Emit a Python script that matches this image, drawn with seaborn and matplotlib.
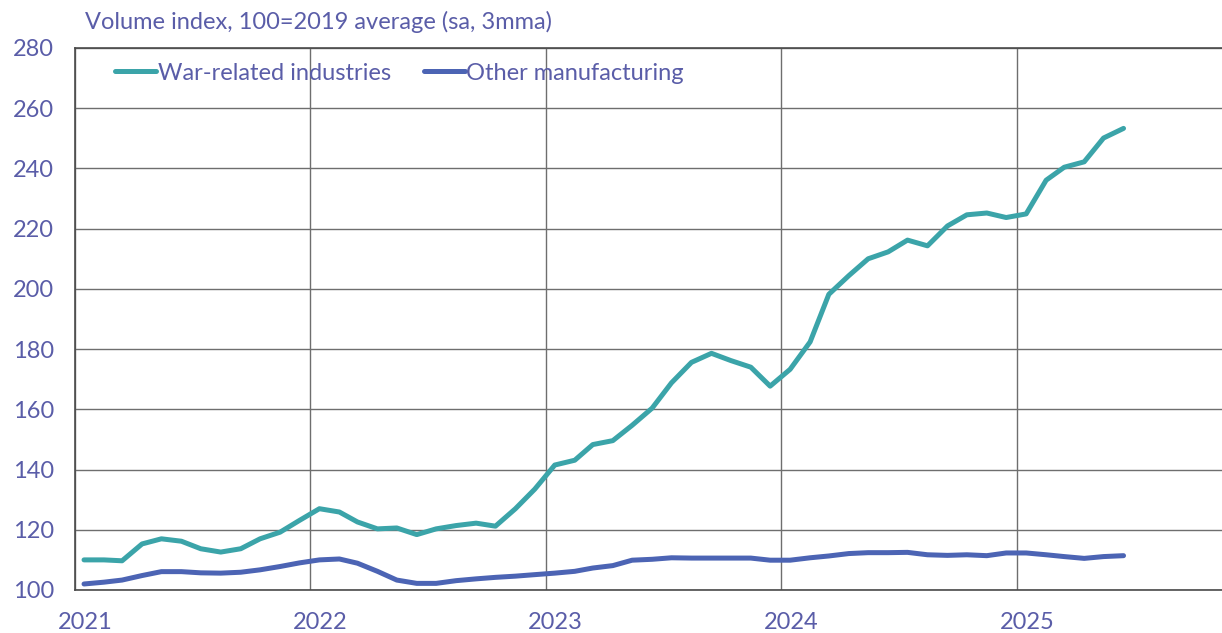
import numpy as np
import pandas as pd
import matplotlib
matplotlib.use("Agg")
import matplotlib.pyplot as plt
import matplotlib.dates as mdates
from matplotlib.transforms import ScaledTranslation
import seaborn as sns

# monthly, Jan 2021 - Jun 2025
war_related = [
    110.0, 110.0, 109.7, 115.3, 117.0, 116.2, 113.7, 112.6, 113.7, 117.0, 119.2, 123.1,
    127.0, 125.9, 122.6, 120.3, 120.6, 118.4, 120.3, 121.4, 122.2, 121.2, 127.0, 133.5,
    141.5, 143.1, 148.3, 149.6, 154.7, 160.4, 168.8, 175.6, 178.6, 176.2, 174.0, 167.7,
    173.3, 182.4, 198.2, 204.4, 210.0, 212.3, 216.2, 214.3, 220.9, 224.6, 225.2, 223.7,
    224.9, 236.1, 240.4, 242.2, 250.1, 253.3,
]
other_manuf = [
    102.0, 102.6, 103.3, 104.8, 106.1, 106.1, 105.7, 105.6, 105.9, 106.7, 107.8, 109.0,
    110.0, 110.3, 108.9, 106.2, 103.3, 102.2, 102.2, 103.1, 103.7, 104.2, 104.6, 105.1,
    105.6, 106.2, 107.3, 108.1, 109.9, 110.2, 110.7, 110.6, 110.6, 110.6, 110.6, 109.9,
    109.9, 110.7, 111.3, 112.1, 112.4, 112.4, 112.5, 111.7, 111.5, 111.7, 111.4, 112.3,
    112.3, 111.7, 111.1, 110.5, 111.1, 111.4,
]
series_names = ["War-related industries", "Other manufacturing"]
colors = ["#3BA4A9", "#4C64B4"]
y_ticks = [100, 120, 140, 160, 180, 200, 220, 240, 260, 280]
x_years = [2021, 2022, 2023, 2024, 2025]
title = "Volume index, 100=2019 average (sa, 3mma)"

months = pd.date_range("2021-01-01", periods=len(war_related), freq="MS") + pd.Timedelta(days=14)
df = pd.concat([
    pd.DataFrame({"date": months, "value": war_related, "series": series_names[0]}),
    pd.DataFrame({"date": months, "value": other_manuf, "series": series_names[1]}),
])

sns.set_style("white")
plt.rcParams["font.family"] = ["Lato", "DejaVu Sans"]
txt_col = "#5A5DA8"

fig = plt.figure(figsize=(12.22, 6.33), dpi=100)
ax = fig.add_axes([75 / 1222, 43 / 633, 1177.5 / 1222, 542 / 633])

sns.lineplot(data=df, x="date", y="value", hue="series", palette=colors,
             linewidth=3.6, ax=ax)

ax.set_xlim(pd.Timestamp("2021-01-01"), pd.Timestamp("2026-01-01"))
ax.set_ylim(100, 280)
ax.set_yticks(y_ticks)
ax.set_xticks([pd.Timestamp(f"{y}-01-01") for y in x_years])
ax.xaxis.set_major_formatter(mdates.DateFormatter("%Y"))
ax.grid(True, color="#6E6E6E", linewidth=1.0)
ax.set_axisbelow(True)
for s in ["left", "bottom", "top"]:
    ax.spines[s].set_color("#4A4A4A")
    ax.spines[s].set_linewidth(1.2)
ax.spines["right"].set_visible(False)
ax.tick_params(axis="both", length=0, labelsize=17, labelcolor=txt_col)
ax.tick_params(axis="y", pad=15)
ax.tick_params(axis="x", pad=16)
for lab in ax.get_xticklabels():
    lab.set_transform(lab.get_transform() + ScaledTranslation(10 / 100, 0, fig.dpi_scale_trans))
ax.set_xlabel("")
ax.set_ylabel("")

ax.legend(loc="upper left", bbox_to_anchor=(0.016, 1.012), ncol=2, frameon=False,
          fontsize=17, labelcolor=txt_col, handlelength=1.75, handletextpad=0.05,
          columnspacing=1.4)

fig.text(85 / 1222, 1 - 22 / 633, title, fontsize=17, color=txt_col,
         ha="left", va="center")

fig.savefig("out.png", dpi=100)
